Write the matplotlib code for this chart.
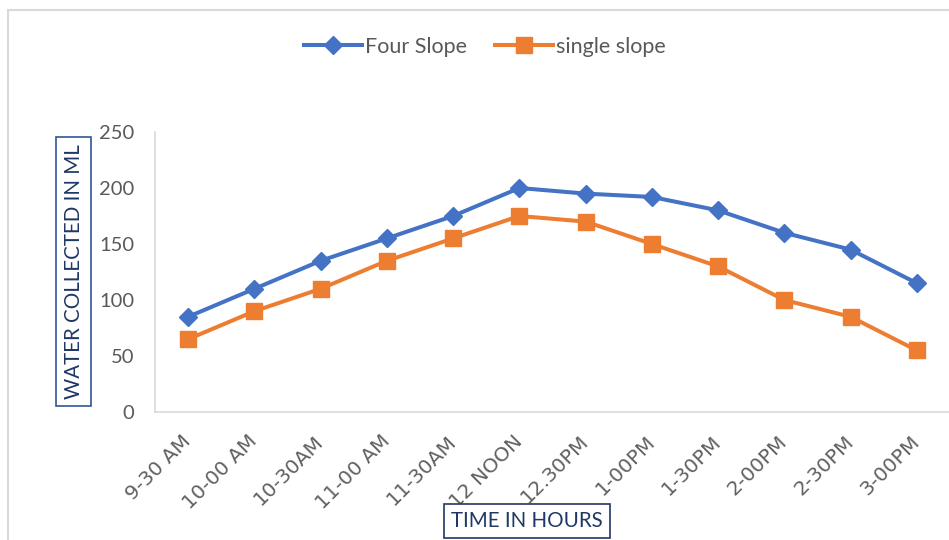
import matplotlib
matplotlib.use("Agg")
import matplotlib.pyplot as plt
from matplotlib.patches import Rectangle

categories = ["9-30 AM", "10-00 AM", "10-30AM", "11-00 AM", "11-30AM", "12 NOON",
              "12.30PM", "1-00PM", "1-30PM", "2-00PM", "2-30PM", "3-00PM"]
four_slope = [85, 110, 135, 155, 175, 200, 195, 192, 180, 160, 145, 115]
single_slope = [65, 90, 110, 135, 155, 175, 170, 150, 130, 100, 85, 55]

plt.rcParams['font.family'] = ['Lato', 'DejaVu Sans']

W, H = 949, 540
fig = plt.figure(figsize=(W / 100, H / 100), dpi=100)
ax = fig.add_axes([155 / W, 1 - 412 / H, 795 / W, 280 / H])

x = list(range(len(categories)))
ax.plot(x, four_slope, color='#4472C4', lw=2.9, marker='D', ms=9.5,
        label='Four Slope', zorder=3)
ax.plot(x, single_slope, color='#ED7D31', lw=2.9, marker='s', ms=11,
        label='single slope', zorder=3)

ax.set_xlim(-0.5, len(categories) - 0.5)
ax.set_ylim(0, 250)
ax.set_yticks([0, 50, 100, 150, 200, 250])
ax.set_xticks(x)
ax.set_xticklabels(categories, rotation=45, ha='right', va='center',
                   rotation_mode='anchor')
for lbl in ax.get_xticklabels():
    lbl.set_fontsize(14.5)
    lbl.set_color('#606060')
    lbl.set_family(['DejaVu Sans'])
ax.tick_params(axis='x', length=0, pad=19)
ax.tick_params(axis='y', length=0, pad=15, labelsize=14.5, labelcolor='#595959')

for s in ['top', 'right']:
    ax.spines[s].set_visible(False)
ax.spines['left'].set_color('#D9D9D9')
ax.spines['bottom'].set_color('#D9D9D9')
ax.spines['left'].set_linewidth(1.2)
ax.spines['bottom'].set_linewidth(1.2)

leg = fig.legend(loc='center', bbox_to_anchor=(485 / W, 1 - 47 / H), ncol=2,
                 frameon=False, fontsize=15.5, handlelength=2.7, columnspacing=1.3,
                 handletextpad=0.15)
for t in leg.get_texts():
    t.set_color('#595959')

# axis titles in boxes
fig.text(73.5 / W, 1 - 271.5 / H, 'WATER COLLECTED IN ML', rotation=90,
         ha='center', va='center', fontsize=14.8, color='#1F3864',
         bbox=dict(boxstyle='square,pad=0.35', fc='white', ec='#2F5597', lw=1.2))
fig.text(527 / W, 1 - 521 / H, 'TIME IN HOURS', ha='center', va='center',
         fontsize=14.8, color='#1F3864',
         bbox=dict(boxstyle='square,pad=0.35', fc='white', ec='#1F3864', lw=1.2))

# chart area border
fig.patches.append(Rectangle((8 / W, -0.2), 1.2, 1.2 - 10 / H, transform=fig.transFigure,
                             fill=False, ec='#D9D9D9', lw=1.5, zorder=0))

fig.savefig('out.png', dpi=100)
